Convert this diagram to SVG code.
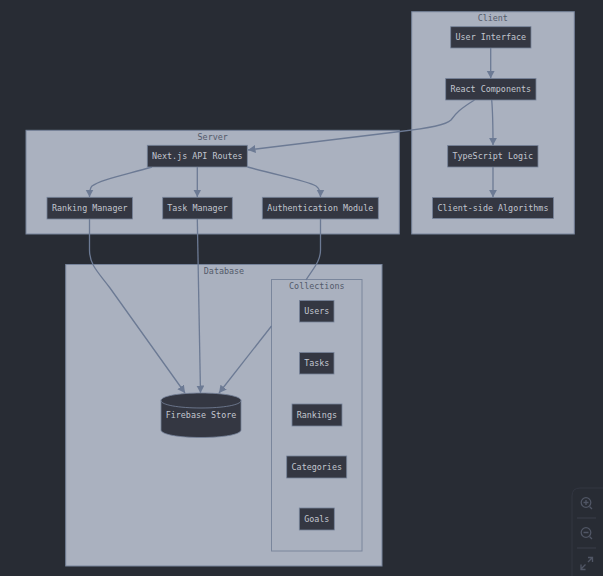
<svg xmlns="http://www.w3.org/2000/svg" width="603" height="576" viewBox="0 0 603 576">
<style>
.cl{fill:#aab1bf;stroke:#76839a;stroke-width:1}
.sub{fill:#aab1bf;stroke:#7a869c;stroke-width:1}
.n{fill:#343742;stroke:#76839a;stroke-width:.8}
text{font-family:"DejaVu Sans Mono",monospace;font-size:8.4px;text-anchor:middle}
.t{fill:#c2c6cf}
.c{fill:#535a6a}
.e{fill:none;stroke:#6c7a94;stroke-width:1.3;marker-end:url(#a)}
.u{fill:none;stroke:#6c7a94;stroke-width:1.3}
.i{fill:none;stroke:#505665;stroke-width:1.3}
</style>
<defs>
<marker id="a" markerUnits="userSpaceOnUse" markerWidth="10" markerHeight="10" refX="7.500" refY="4" orient="auto"><path d="M0 0L7.500 4L0 8Z" fill="#6c7a94"/></marker>
</defs>
<rect width="603" height="576" fill="#282c34"/>
<g id="client"><rect class="cl" x="411.700" y="11.700" width="162.600" height="222.300"/><text class="c" x="492.800" y="21">Client</text></g>
<g id="server"><rect class="cl" x="26" y="130.300" width="373.300" height="103.700"/><text class="c" x="212.700" y="139.500">Server</text></g>
<g id="database"><rect class="cl" x="65.700" y="264.500" width="316.300" height="301.500"/><text class="c" x="224" y="273.500">Database</text></g>
<g id="collections"><rect class="sub" x="271.500" y="279.500" width="90.500" height="271.500"/><text class="c" x="316.800" y="288.500">Collections</text></g>
<g id="connectors">
<path class="e" d="M490.700 48V78.300"/>
<path class="e" d="M491.700 100C493 115 493 130 493 145.300"/>
<path class="e" d="M493 167V197.300"/>
<path class="e" d="M474.500 100C460 109 456 113 451 120C446 125 430 128 400 131.500L248 150"/>
<path class="e" d="M152 167C120 176 100 180 92 186C90 188 89.500 190 89.500 197"/>
<path class="e" d="M197.300 167V197"/>
<path class="e" d="M247.500 167C280 176 305 180 316 186C319 188 320.500 191 320.500 197"/>
<path class="e" d="M89.500 219V250C89.500 266 100 274 110 288L185 393"/>
<path class="e" d="M197.300 219L200.500 393"/>
<path class="u" d="M320.500 219V250C320.500 262 312 270 306 280"/>
<path class="e" d="M271.500 326L219 393"/>
</g>
<g id="user-interface"><rect class="n" x="450.700" y="26.700" width="80.300" height="21.300"/><text class="t" x="490.800" y="40.300">User Interface</text></g>
<g id="react-components"><rect class="n" x="445.700" y="78.500" width="90.300" height="21.500"/><text class="t" x="490.800" y="92.200">React Components</text></g>
<g id="typescript-logic"><rect class="n" x="447.700" y="145.500" width="90.300" height="21.500"/><text class="t" x="492.800" y="159.200">TypeScript Logic</text></g>
<g id="client-side-algorithms"><rect class="n" x="432.500" y="197.500" width="121" height="21"/><text class="t" x="493" y="211">Client-side Algorithms</text></g>
<g id="next-api"><rect class="n" x="147.300" y="145.300" width="100" height="21.700"/><text class="t" x="197.300" y="159">Next.js API Routes</text></g>
<g id="ranking-manager"><rect class="n" x="47" y="197.300" width="85.500" height="21.700"/><text class="t" x="89.700" y="211">Ranking Manager</text></g>
<g id="task-manager"><rect class="n" x="162.700" y="197.300" width="69.600" height="21.700"/><text class="t" x="197.500" y="211">Task Manager</text></g>
<g id="authentication-module"><rect class="n" x="262.300" y="197.300" width="116" height="21.700"/><text class="t" x="320.300" y="211">Authentication Module</text></g>
<g id="users"><rect class="n" x="299.500" y="300.500" width="34.500" height="21.500"/><text class="t" x="316.800" y="314">Users</text></g>
<g id="tasks"><rect class="n" x="299.500" y="352.500" width="34.500" height="21.500"/><text class="t" x="316.800" y="366">Tasks</text></g>
<g id="rankings"><rect class="n" x="292" y="404" width="50" height="22"/><text class="t" x="316.800" y="417.800">Rankings</text></g>
<g id="categories"><rect class="n" x="286.700" y="456" width="60" height="22"/><text class="t" x="316.800" y="469.800">Categories</text></g>
<g id="goals"><rect class="n" x="299.300" y="508" width="35" height="22"/><text class="t" x="316.800" y="521.800">Goals</text></g>
<g id="firebase-store">
<path d="M161 400.500C161 396 179 393 201 393C223 393 241 396 241 400.500V430C241 434.500 223 437.500 201 437.500C179 437.500 161 434.500 161 430Z" fill="#343742" stroke="#76839a" stroke-width=".8"/>
<path d="M161 400.500C161 405 179 408 201 408C223 408 241 405 241 400.500" fill="none" stroke="#76839a" stroke-width=".8"/>
<text class="t" x="201" y="417.800">Firebase Store</text>
</g>
<g id="controls">
<path d="M603 488H580Q572 488 572 496V576" fill="none" stroke="#323641" stroke-width="1"/>
<path d="M577 518H596M577 548H596" stroke="#3a3e4a" stroke-width="1"/>
<circle class="i" cx="586" cy="502.500" r="4.800"/><path class="i" d="M589.500 506.500L592 509M586 500V505M583.500 502.500H588.500"/>
<circle class="i" cx="586" cy="532.500" r="4.800"/><path class="i" d="M589.500 536.500L592 539M583.500 532.500H588.500"/>
<path class="i" d="M581 569L585.500 564.500M588 562L592 558M588 557.500H592.500V562M581 564.500V569.500H585.500"/>
</g>
</svg>
